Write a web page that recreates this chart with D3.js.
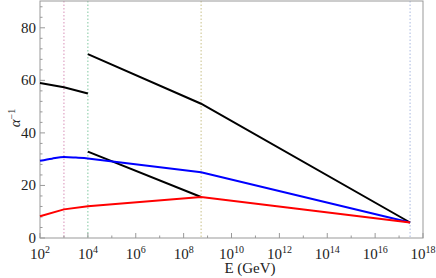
<!DOCTYPE html>
<html><head><meta charset="utf-8">
<script src="https://cdn.jsdelivr.net/npm/d3@7"></script>
<style>body{margin:0;background:#fff}svg{display:block}svg text{font-family:"Liberation Serif",Tinos,"Times New Roman","DejaVu Serif",serif}</style>
</head><body><svg id="c" width="436" height="278"></svg>
<script>
// Data (log10 E, alpha^-1)
const blackLow1 = [[2,59.0],[3,57.4],[4,55.0]];
const blackHigh = [[4,70.0],[8.73,51.1],[17.46,5.9]];
const blackMid = [[4,32.9],[8.73,15.6]];
const blue = [[2,29.4],[2.5,30.2],[3,30.8],[3.5,30.6],[4,30.3],[8.73,25.0],[17.46,5.9]];
const red = [[2,8.3],[3,10.9],[4,12.1],[8.73,15.6],[17.46,5.9]];
const thresholds = [3,4,8.73,17.46];
const thresholdColors = ["#d890b8","#80c8a0","#c8c088","#a8b8e0"];
const xTicks = [2,4,6,8,10,12,14,16,18];
const yTicks = [0,20,40,60,80];

const svg = d3.select("#c");
const L=40,R=423,T=1,B=238;
const x = d3.scaleLinear().domain([2,18]).range([L,R]);
const y = d3.scaleLinear().domain([0,90.2]).range([B,T]);

thresholds.forEach((t,i)=>{
  svg.append("line").attr("x1",x(t)).attr("x2",x(t)).attr("y1",T).attr("y2",B)
    .attr("stroke",thresholdColors[i]).attr("stroke-width",1).attr("stroke-dasharray","1.5,2");
});

svg.append("rect").attr("x",L).attr("y",T).attr("width",R-L).attr("height",B-T)
  .attr("fill","none").attr("stroke","#999").attr("stroke-width",1);

const g = svg.append("g").attr("fill","#222");
xTicks.forEach(t=>{
  g.append("line").attr("x1",x(t)).attr("x2",x(t)).attr("y1",B).attr("y2",B-5).attr("stroke","#999");
  const tx = g.append("text").attr("x",x(t)).attr("y",B+21).attr("text-anchor","middle").style("font-size","15px");
  tx.append("tspan").text("10");
  tx.append("tspan").attr("dy",-6).style("font-size","10px").text(t);
});
d3.range(3,18,2).forEach(t=>{
  g.append("line").attr("x1",x(t)).attr("x2",x(t)).attr("y1",B).attr("y2",B-2.5).attr("stroke","#999");
});
yTicks.forEach(t=>{
  g.append("line").attr("x1",L).attr("x2",L+5).attr("y1",y(t)).attr("y2",y(t)).attr("stroke","#999");
  g.append("text").attr("x",L-4).attr("y",y(t)+5).attr("text-anchor","end").style("font-size","15px").text(t);
});
d3.range(0,90,4).filter(v=>v%20!==0).forEach(t=>{
  g.append("line").attr("x1",L).attr("x2",L+2.5).attr("y1",y(t)).attr("y2",y(t)).attr("stroke","#999");
});

g.append("text").attr("x",250).attr("y",273).attr("text-anchor","middle").style("font-size","15px").text("E (GeV)");
const yl = g.append("text").attr("transform","translate(20,118) rotate(-90)").attr("text-anchor","middle").style("font-size","15px");
yl.append("tspan").style("font-style","italic").text("α");
yl.append("tspan").attr("dy",-5).style("font-size","10px").text("−1");

const line = d3.line().x(d=>x(d[0])).y(d=>y(d[1]));
const lineSmooth = d3.line().x(d=>x(d[0])).y(d=>y(d[1])).curve(d3.curveMonotoneX);
svg.append("path").attr("d",line(blackLow1)).attr("fill","none").attr("stroke","#000").attr("stroke-width",2);
svg.append("path").attr("d",line(blackHigh)).attr("fill","none").attr("stroke","#000").attr("stroke-width",2);
svg.append("path").attr("d",line(blackMid)).attr("fill","none").attr("stroke","#000").attr("stroke-width",2);
svg.append("path").attr("d",lineSmooth(blue.slice(0,5))+"L"+line(blue.slice(4)).slice(1)).attr("fill","none").attr("stroke","#0000ff").attr("stroke-width",2);
svg.append("path").attr("d",line(red)).attr("fill","none").attr("stroke","#ff0000").attr("stroke-width",2);
</script></body></html>
